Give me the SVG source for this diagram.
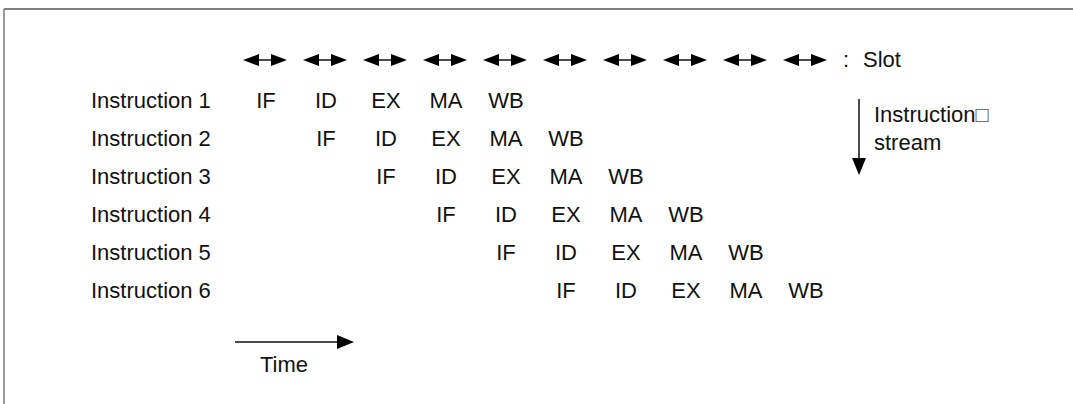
<svg xmlns="http://www.w3.org/2000/svg" width="1073" height="404" viewBox="0 0 1073 404">
<style>
text{font-family:"Liberation Sans",Arial,sans-serif;font-size:22px;fill:#111}
.st{text-anchor:middle}
</style>
<defs>
<g id="slot">
<line x1="-6" y1="0" x2="6" y2="0" stroke="#111" stroke-width="1.5"/>
<polygon points="-22,0 -6,-6 -6,6" fill="#000"/>
<polygon points="22,0 6,-6 6,6" fill="#000"/>
</g>
</defs>
<rect width="1073" height="404" fill="#fff"/>
<g id="frame">
<line x1="4" y1="9" x2="1073" y2="9" stroke="#555" stroke-width="1.5"/>
<line x1="4" y1="9" x2="4" y2="404" stroke="#777" stroke-width="1.5"/>
</g>
<g id="slots">
<use href="#slot" x="265" y="60"/>
<use href="#slot" x="325" y="60"/>
<use href="#slot" x="385" y="60"/>
<use href="#slot" x="445" y="60"/>
<use href="#slot" x="505" y="60"/>
<use href="#slot" x="565" y="60"/>
<use href="#slot" x="625" y="60"/>
<use href="#slot" x="685" y="60"/>
<use href="#slot" x="745" y="60"/>
<use href="#slot" x="805" y="60"/>
<text x="843" y="67">:</text>
<text x="863" y="67">Slot</text>
</g>
<g id="labels">
<text x="91" y="108">Instruction 1</text>
<text x="91" y="146">Instruction 2</text>
<text x="91" y="184">Instruction 3</text>
<text x="91" y="222">Instruction 4</text>
<text x="91" y="260">Instruction 5</text>
<text x="91" y="298">Instruction 6</text>
</g>
<g id="row1">
<text class="st" x="266" y="108">IF</text><text class="st" x="326" y="108">ID</text><text class="st" x="386" y="108">EX</text><text class="st" x="446" y="108">MA</text><text class="st" x="506" y="108">WB</text>
</g>
<g id="row2">
<text class="st" x="326" y="146">IF</text><text class="st" x="386" y="146">ID</text><text class="st" x="446" y="146">EX</text><text class="st" x="506" y="146">MA</text><text class="st" x="566" y="146">WB</text>
</g>
<g id="row3">
<text class="st" x="386" y="184">IF</text><text class="st" x="446" y="184">ID</text><text class="st" x="506" y="184">EX</text><text class="st" x="566" y="184">MA</text><text class="st" x="626" y="184">WB</text>
</g>
<g id="row4">
<text class="st" x="446" y="222">IF</text><text class="st" x="506" y="222">ID</text><text class="st" x="566" y="222">EX</text><text class="st" x="626" y="222">MA</text><text class="st" x="686" y="222">WB</text>
</g>
<g id="row5">
<text class="st" x="506" y="260">IF</text><text class="st" x="566" y="260">ID</text><text class="st" x="626" y="260">EX</text><text class="st" x="686" y="260">MA</text><text class="st" x="746" y="260">WB</text>
</g>
<g id="row6">
<text class="st" x="566" y="298">IF</text><text class="st" x="626" y="298">ID</text><text class="st" x="686" y="298">EX</text><text class="st" x="746" y="298">MA</text><text class="st" x="806" y="298">WB</text>
</g>
<g id="connectors">
<line x1="859" y1="99" x2="859" y2="160" stroke="#111" stroke-width="1.5"/>
<polygon points="852,158 866,158 859,175" fill="#000"/>
<line x1="235" y1="342" x2="340" y2="342" stroke="#111" stroke-width="1.5"/>
<polygon points="337,335 337,349 354,342" fill="#000"/>
</g>
<g id="stream-label">
<text x="874" y="122">Instruction<tspan fill="#555">□</tspan></text>
<text x="874" y="150">stream</text>
</g>
<g id="time-label">
<text x="260" y="372">Time</text>
</g>
</svg>
